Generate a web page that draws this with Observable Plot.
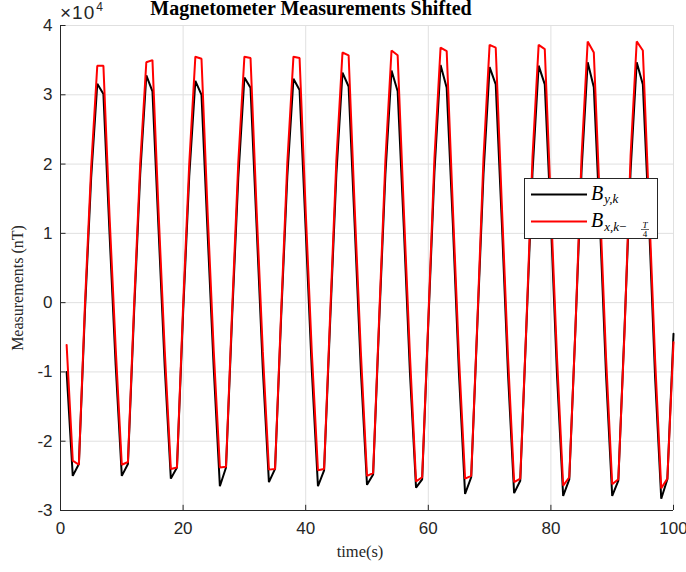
<!DOCTYPE html>
<html><head><meta charset="utf-8">
<script src="https://cdn.jsdelivr.net/npm/d3@7"></script>
<script src="https://cdn.jsdelivr.net/npm/@observablehq/plot@0.6"></script>
<style>
html,body{margin:0;padding:0;background:#fff;}
#chart{position:relative;width:686px;height:572px;overflow:hidden;}
svg{overflow:visible;}
</style></head><body><div id="chart"></div>
<script>
const time = [1,2,3,4,5,6,7,8,9,10,11,12,13,14,15,16,17,18,19,20,21,22,23,24,25,26,27,28,29,30,31,32,33,34,35,36,37,38,39,40,41,42,43,44,45,46,47,48,49,50,51,52,53,54,55,56,57,58,59,60,61,62,63,64,65,66,67,68,69,70,71,72,73,74,75,76,77,78,79,80,81,82,83,84,85,86,87,88,89,90,91,92,93,94,95,96,97,98,99,100];

// B_{y,k} (nT)
const byk = [
 -10000,-25000,-23300,-1000,18000,31600,30100,10000,
 -9000,-25000,-23300,-1500,18500,32800,30500,10500,
 -9200,-25400,-23800,-1500,18200,32000,30000,10000,
 -9500,-26500,-23800,-2000,18000,32500,31000,10800,
 -9500,-25900,-24000,-2000,18200,32300,30700,10500,
 -9800,-26500,-24200,-2500,18500,33200,31200,11000,
 -9800,-26300,-24800,-2500,18500,33500,30500,11000,
 -10000,-26700,-25500,-3000,18800,34300,31000,11500,
 -10200,-27600,-25200,-3200,18500,34000,31500,11500,
 -10200,-27500,-25700,-3500,18800,34200,31500,11800,
 -10500,-27900,-25500,-3800,19000,34700,31100,11500,
 -10500,-27900,-25700,-4000,19000,34700,31500,11800,
 -10800,-28300,-25500,-4500
];

// B_{x,k-T/4} (nT)
const bxShift = [
 -6100,-22800,-23400,0,19500,34200,34200,12500,
 -6500,-23400,-23000,-500,20000,34700,35000,13000,
 -6800,-24000,-23800,-500,20000,35500,35200,13000,
 -7000,-23800,-23700,-1000,20200,35500,35300,13200,
 -7000,-24100,-24000,-1200,20200,35500,35300,13200,
 -7200,-24200,-24000,-1500,20500,36100,35700,13500,
 -7200,-25000,-24600,-1800,20500,36400,35700,13500,
 -7500,-25800,-25200,-2500,20800,36800,36300,13800,
 -7800,-25400,-25000,-2800,20800,37200,36800,14000,
 -7800,-25900,-25400,-3200,21000,37200,36600,14000,
 -8000,-26400,-25200,-3800,21000,37700,36100,14200,
 -8000,-26200,-25500,-4500,21200,37700,36400,14200,
 -8200,-26800,-25400,-5700
];

const xTicks = [0,20,40,60,80,100];
const yTicks = [-30000,-20000,-10000,0,10000,20000,30000,40000];
const yTickLabels = ["-3","-2","-1","0","1","2","3","4"];
const seriesColors = ["#000000", "#ff0000"];
const titleText = "Magnetometer Measurements Shifted";
const xLabel = "time(s)";
const yLabel = "Measurements (nT)";

const axisColor = "#262626";
const gridColor = "#e0e0e0";

const plot = Plot.plot({
  width: 686, height: 572,
  marginLeft: 60, marginRight: 13, marginTop: 25, marginBottom: 62,
  style: {background: "white", fontFamily: "'Liberation Sans', Arial, sans-serif", fontSize: "17px", color: axisColor},
  x: {domain: [0, 100]},
  y: {domain: [-30000, 40000]},
  marks: [
    Plot.gridX(xTicks, {stroke: gridColor, strokeOpacity: 1}),
    Plot.gridY(yTicks, {stroke: gridColor, strokeOpacity: 1}),
    Plot.axisX(xTicks, {tickSize: 0, tickPadding: 11, fontSize: 17, fill: axisColor, label: null, tickFormat: d => String(d)}),
    Plot.axisY(yTicks, {tickSize: 0, tickPadding: 8, fontSize: 17, fill: axisColor, label: null, tickFormat: (d, i) => yTickLabels[yTicks.indexOf(d)]}),
    Plot.ruleX(xTicks, {x: d => d, y1: -30000, y2: -29250, stroke: axisColor}),
    Plot.ruleY(yTicks, {y: d => d, x1: 0, x2: 0.9, stroke: axisColor}),
    Plot.ruleX([0], {stroke: axisColor, strokeWidth: 1}),
    Plot.ruleY([-30000], {stroke: axisColor, strokeWidth: 1}),
    Plot.line(time, {x: time, y: byk, stroke: seriesColors[0], strokeWidth: 2, strokeLinejoin: "miter"}),
    Plot.line(time, {x: time, y: bxShift, stroke: seriesColors[1], strokeWidth: 2, strokeLinejoin: "miter"})
  ]
});
document.getElementById("chart").appendChild(plot);

const svg = d3.select(plot);
const serif = "'Liberation Serif', 'Times New Roman', serif";
// title
svg.append("text").attr("x", 311).attr("y", 15).attr("text-anchor", "middle")
  .attr("font-family", serif).attr("font-weight", "bold")
  .attr("font-size", 20).attr("fill", "#000").text(titleText);
// exponent
const ex = svg.append("text").attr("x", 60).attr("y", 19).attr("text-anchor", "start")
  .attr("font-family", "'Liberation Sans', Arial, sans-serif").attr("font-size", 19).attr("fill", axisColor);
ex.append("tspan").attr("letter-spacing", 1).text("×10");
ex.append("tspan").attr("font-size", 12).attr("dx", 1).attr("dy", -8).text("4");
// axis labels
svg.append("text").attr("x", 360).attr("y", 557).attr("text-anchor", "middle")
  .attr("font-family", serif).attr("font-size", 16.5).attr("fill", axisColor).text(xLabel);
svg.append("text").attr("transform", "translate(23,288) rotate(-90)").attr("text-anchor", "middle")
  .attr("font-family", serif).attr("font-size", 16).attr("fill", axisColor).text(yLabel);

// legend
const lg = svg.append("g").attr("text-anchor", "start");
lg.append("rect").attr("x", 524.5).attr("y", 178.5).attr("width", 133).attr("height", 60)
  .attr("fill", "white").attr("stroke", axisColor).attr("stroke-width", 1);
lg.append("line").attr("x1", 531).attr("x2", 587).attr("y1", 194.5).attr("y2", 194.5).attr("stroke", seriesColors[0]).attr("stroke-width", 2);
lg.append("line").attr("x1", 531).attr("x2", 587).attr("y1", 221.5).attr("y2", 221.5).attr("stroke", seriesColors[1]).attr("stroke-width", 2);
const t1 = lg.append("text").attr("x", 591).attr("y", 200).attr("text-anchor", "start").attr("font-family", serif).attr("font-style", "italic").attr("font-size", 20).attr("fill", "#000");
t1.append("tspan").text("B");
t1.append("tspan").attr("font-size", 13).attr("dx", 1).attr("dy", 3).text("y,k");
const t2 = lg.append("text").attr("x", 591).attr("y", 227).attr("text-anchor", "start").attr("font-family", serif).attr("font-style", "italic").attr("font-size", 20).attr("fill", "#000");
t2.append("tspan").text("B");
t2.append("tspan").attr("font-size", 13).attr("dx", 1).attr("dy", 4).text("x,k");
t2.append("tspan").attr("font-size", 13).attr("font-style", "normal").text("−");
lg.append("text").attr("x", 645).attr("y", 227.5).attr("text-anchor", "middle").attr("font-family", serif).attr("font-style", "italic").attr("font-size", 9).attr("fill", "#000").text("T");
lg.append("line").attr("x1", 641).attr("x2", 649).attr("y1", 229.5).attr("y2", 229.5).attr("stroke", "#000").attr("stroke-width", 0.6);
lg.append("text").attr("x", 645).attr("y", 237).attr("text-anchor", "middle").attr("font-family", serif).attr("font-size", 9).attr("fill", "#000").text("4");
</script>
</body></html>
